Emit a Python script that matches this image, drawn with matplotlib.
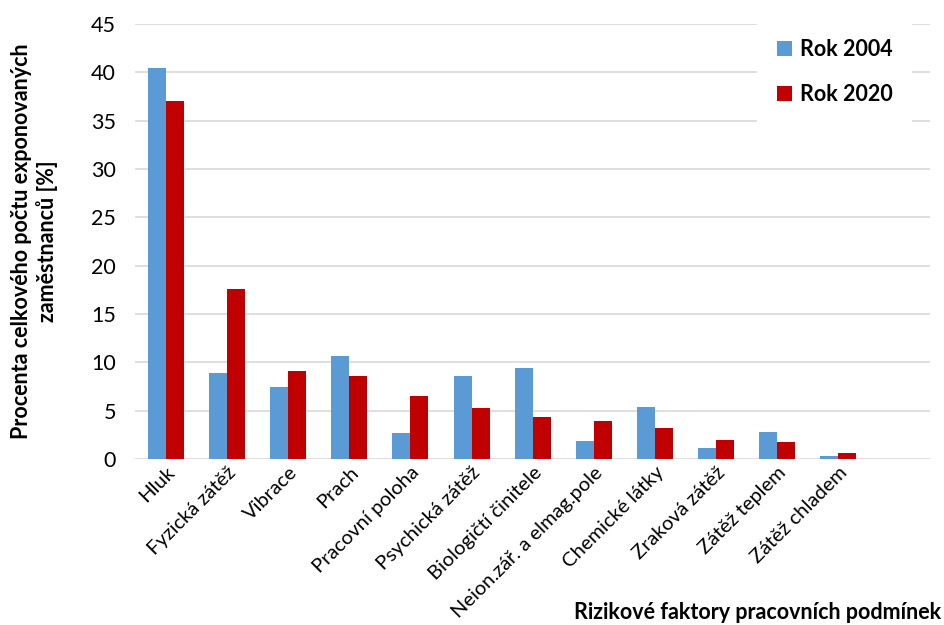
import numpy as np
import matplotlib
matplotlib.use('Agg')
import matplotlib.pyplot as plt

plt.rcParams['font.family'] = ['Lato', 'DejaVu Sans']

kategorie = ['Hluk', 'Fyzická zátěž', 'Vibrace', 'Prach', 'Pracovní poloha',
             'Psychická zátěž', 'Biologičtí činitele', 'Neion.zář. a elmag.pole',
             'Chemické látky', 'Zraková zátěž', 'Zátěž teplem', 'Zátěž chladem']
rok_2004 = [40.4, 8.9, 7.4, 10.7, 2.7, 8.6, 9.4, 1.9, 5.4, 1.1, 2.8, 0.3]
rok_2020 = [37.0, 17.6, 9.1, 8.6, 6.5, 5.3, 4.3, 3.9, 3.2, 2.0, 1.8, 0.6]

x = np.arange(len(kategorie))
sirka = 0.295

fig = plt.figure(figsize=(9.44, 6.25), dpi=100)
ax = fig.add_axes([0.1435, 0.2656, 0.8415, 0.696])

ax.bar(x - sirka / 2, rok_2004, sirka, color='#5B9BD5', label='Rok 2004', zorder=3)
ax.bar(x + sirka / 2, rok_2020, sirka, color='#C00000', label='Rok 2020', zorder=3)

# prazdna 13. kategorie na konci (jako v originale)
ax.set_xlim(-0.5, len(kategorie) + 0.5)
ax.set_ylim(0, 45)
ax.set_yticks(range(0, 46, 5))
ax.yaxis.grid(True, color='#d9d9d9', linewidth=1.2, zorder=0)
for s in ax.spines.values():
    s.set_visible(False)
ax.tick_params(axis='both', length=0, colors='black')
ax.tick_params(axis='y', pad=14, labelsize=15.5)
ax.set_xticks(x)
ax.set_xticklabels(kategorie, rotation=45, ha='right', rotation_mode='anchor', fontsize=14.5)

ax.set_ylabel('Procenta celkového počtu exponovaných\nzaměstnanců [%]',
              fontsize=15.5, fontweight='bold', labelpad=24)
fig.text(0.997, 0.003, 'Rizikové faktory pracovních podmínek', ha='right', va='bottom',
         fontsize=15.5, fontweight='bold')

leg = ax.legend(loc='upper right', bbox_to_anchor=(0.978, 1.01), frameon=True,
                facecolor='white', edgecolor='none', framealpha=1, fancybox=False,
                prop={'size': 15.5, 'weight': 'bold'}, handlelength=0.7, handleheight=0.7,
                labelspacing=1.1, borderpad=0.9, handletextpad=0.4, borderaxespad=0)
leg.set_zorder(5)

fig.savefig('out.png', dpi=100)
